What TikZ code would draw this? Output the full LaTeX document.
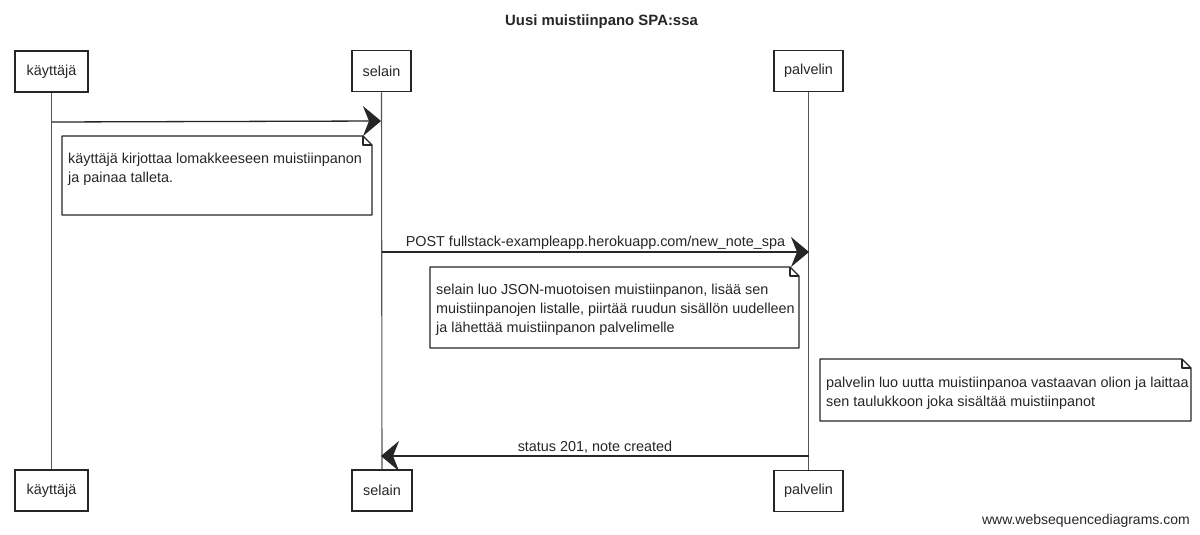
\documentclass[tikz,border=0pt]{standalone}
\usepackage{fontspec}
\setmainfont{Liberation Sans}
\usetikzlibrary{arrows.meta}
\definecolor{ink}{HTML}{262626}
\definecolor{lifeink}{HTML}{555555}
\begin{document}
\begin{tikzpicture}[x=1pt,y=-1pt,
  txt/.style={font=\fontsize{14.4}{19}\selectfont, text=ink, inner sep=0pt},
  part/.style={txt, draw=ink, line width=1.3pt, minimum height=41pt, fill=white},
  life/.style={draw=lifeink, line width=1.1pt},
  msg/.style={draw=ink, line width=1.3pt, -{Stealth[length=18pt,width=30pt,inset=6pt]}},
  noteline/.style={draw=ink, line width=1.3pt, line join=round},
  notetxt/.style={txt, align=left, anchor=north west}
]
\useasboundingbox (0,0) rectangle (1200,535);
\fill[white] (0,0) rectangle (1200,535);

% title
\node[txt, font=\fontsize{14.9}{17}\selectfont\bfseries] (title) at (601.5,21.5) {Uusi muistiinpano SPA:ssa};

% participants
\node[part, minimum width=73pt] (k1) at (51.5,71.5) {käyttäjä};
\node[part, minimum width=59pt] (s1) at (381.5,71.2) {selain};
\node[part, minimum width=69pt] (p1) at (808.5,71.2) {palvelin};
\node[part, minimum width=73pt] (k2) at (51.5,490.5) {käyttäjä};
\node[part, minimum width=60pt] (s2) at (382,490.5) {selain};
\node[part, minimum width=69pt] (p2) at (808.5,491) {palvelin};

% lifelines
\draw[life] (k1.south) -- (k2.north);
\draw[life] (s1.south) -- (s2.north);
\draw[life] (p1.south) -- (p2.north);

% message 1
\coordinate (m1a) at (52,122);
\coordinate (m1b) at (381,121);
\draw[msg] (m1a) -- (m1b);

% note 1
\draw[noteline] (62,136) -- (363,136) -- (372,145) -- (372,215) -- (62,215) -- cycle;
\draw[noteline] (363,136) -- (363,145) -- (372,145);
\node[notetxt] (n1) at (68,152.5) {käyttäjä kirjottaa lomakkeeseen muistiinpanon\\ja painaa talleta.};

% message 2
\coordinate (m2a) at (382,252);
\coordinate (m2b) at (809,252);
\draw[msg] (m2a) -- (m2b);
\node[txt] (l2) at (595.5,243) {POST fullstack-exampleapp.herokuapp.com/new\_note\_spa};

% note 2
\draw[noteline] (430,267) -- (790,267) -- (799,276) -- (799,348) -- (430,348) -- cycle;
\draw[noteline] (790,267) -- (790,276) -- (799,276);
\node[notetxt] (n2) at (436,283.5) {selain luo JSON-muotoisen muistiinpanon, lisää sen\\muistiinpanojen listalle, piirtää ruudun sisällön uudelleen\\ja lähettää muistiinpanon palvelimelle};

% note 3
\draw[noteline] (820,359) -- (1182,359) -- (1191,368) -- (1191,421) -- (820,421) -- cycle;
\draw[noteline] (1182,359) -- (1182,368) -- (1191,368);
\node[notetxt] (n3) at (826,376.5) {palvelin luo uutta muistiinpanoa vastaavan olion ja laittaa\\sen taulukkoon joka sisältää muistiinpanot};

% message 3
\coordinate (m3a) at (809,456);
\coordinate (m3b) at (381,456);
\draw[msg] (m3a) -- (m3b);
\node[txt] (l3) at (595,447) {status 201, note created};

% footer
\node[txt, font=\fontsize{14}{16}\selectfont, anchor=east] (foot) at (1190,521) {www.websequencediagrams.com};
\end{tikzpicture}
\end{document}
